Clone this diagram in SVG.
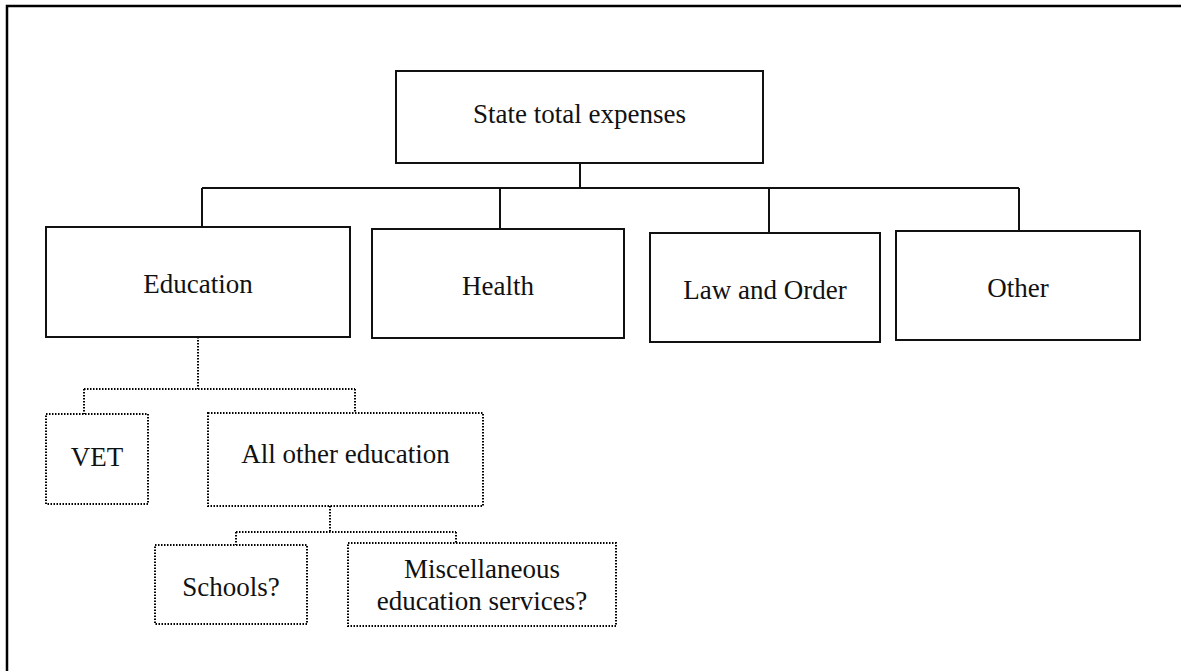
<svg xmlns="http://www.w3.org/2000/svg" width="1181" height="671" viewBox="0 0 1181 671">
  <style>
    .box { fill: #fff; stroke: #111; stroke-width: 2; }
    .dbox { fill: #fff; stroke: #000; stroke-width: 2; stroke-dasharray: 1.5 1.5; }
    .link { fill: none; stroke: #111; stroke-width: 2; }
    .dlink { fill: none; stroke: #000; stroke-width: 2; stroke-dasharray: 1.5 1.5; }
    .lbl { font-family: "Liberation Serif", "Times New Roman", serif; font-size: 27px; fill: #111; text-anchor: middle; }
  </style>
  <rect width="1181" height="671" fill="#fff"/>
  <!-- frame -->
  <path d="M7 671 V6 H1181" fill="none" stroke="#000" stroke-width="2.5"/>

  <g id="connectors">
    <path class="link" d="M580 163 V188 M202 188 H1019 M202 188 V227 M500 188 V229 M769 188 V233 M1019 188 V231"/>
    <path class="dlink" d="M198 337 V389 M84 389 H355 M84 389 V414 M355 389 V413"/>
    <path class="dlink" d="M330 506 V532 M236 532 H456 M236 532 V545 M456 532 V543"/>
  </g>

  <g id="state">
    <rect class="box" x="396" y="71" width="367" height="92"/>
    <text class="lbl" x="579.5" y="123">State total expenses</text>
  </g>
  <g id="education">
    <rect class="box" x="46" y="227" width="304" height="110"/>
    <text class="lbl" x="198" y="293">Education</text>
  </g>
  <g id="health">
    <rect class="box" x="372" y="229" width="252" height="109"/>
    <text class="lbl" x="498" y="295">Health</text>
  </g>
  <g id="law">
    <rect class="box" x="650" y="233" width="230" height="109"/>
    <text class="lbl" x="765" y="299">Law and Order</text>
  </g>
  <g id="other">
    <rect class="box" x="896" y="231" width="244" height="109"/>
    <text class="lbl" x="1018" y="297">Other</text>
  </g>
  <g id="vet">
    <rect class="dbox" x="46" y="414" width="102" height="90"/>
    <text class="lbl" x="97" y="466">VET</text>
  </g>
  <g id="allother">
    <rect class="dbox" x="208" y="413" width="275" height="93"/>
    <text class="lbl" x="345.5" y="463">All other education</text>
  </g>
  <g id="schools">
    <rect class="dbox" x="155" y="545" width="152" height="79"/>
    <text class="lbl" x="231" y="596">Schools?</text>
  </g>
  <g id="misc">
    <rect class="dbox" x="348" y="543" width="268" height="83"/>
    <text class="lbl" x="482" y="578">Miscellaneous</text>
    <text class="lbl" x="482" y="610">education services?</text>
  </g>
</svg>
